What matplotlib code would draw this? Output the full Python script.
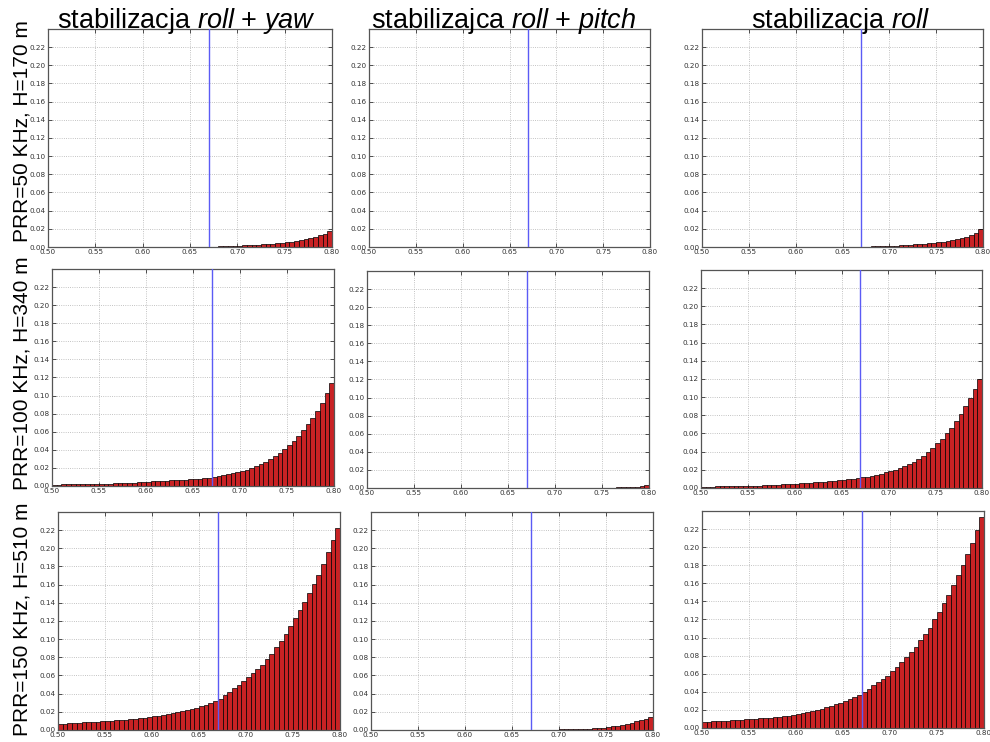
import numpy as np
import matplotlib
matplotlib.use('Agg')
import matplotlib.pyplot as plt

plt.rcParams['mathtext.fontset'] = 'custom'
plt.rcParams['mathtext.rm'] = 'Liberation Sans'
plt.rcParams['mathtext.it'] = 'Liberation Sans:italic'

# histogram bins: 60 bins of 0.005 between 0.50 and 0.80
bin_left = np.round(np.arange(60) * 0.005 + 0.5, 3)
threshold = 0.67

col_titles = [r'stabilizacja $\mathit{roll}$ + $\mathit{yaw}$',
              r'stabilizajca $\mathit{roll}$ + $\mathit{pitch}$',
              r'stabilizacja $\mathit{roll}$']
row_labels = ['PRR=50 KHz, H=170 m', 'PRR=100 KHz, H=340 m', 'PRR=150 KHz, H=510 m']

# row 1 (PRR=50 KHz)
r1_yaw = [0] * 34 + [
    0.0004, 0.0005, 0.0007, 0.0008, 0.0010, 0.0012,
    0.0015, 0.0017, 0.0020, 0.0023, 0.0026, 0.0029, 0.0033, 0.0036, 0.0040, 0.0046,
    0.0052, 0.0059, 0.0067, 0.0074, 0.0085, 0.0096, 0.0110, 0.0130, 0.0148, 0.0178]
r1_pitch = [0] * 60
r1_roll = [0] * 34 + [
    0.0004, 0.0004, 0.0006, 0.0007, 0.0008, 0.0011,
    0.0015, 0.0016, 0.0018, 0.0022, 0.0026, 0.0029, 0.0033, 0.0036, 0.0040, 0.0046,
    0.0052, 0.0060, 0.0067, 0.0074, 0.0085, 0.0096, 0.0115, 0.0137, 0.0155, 0.0193]

# row 2 (PRR=100 KHz)
r2_yaw = [
    0.0015, 0.0016, 0.0017, 0.0018, 0.0019, 0.0020, 0.0021, 0.0021, 0.0022, 0.0022,
    0.0022, 0.0024, 0.0026, 0.0028, 0.0030, 0.0031, 0.0033, 0.0036, 0.0040, 0.0044,
    0.0048, 0.0051, 0.0054, 0.0057, 0.0060, 0.0063, 0.0066, 0.0068, 0.0070, 0.0074,
    0.0077, 0.0080, 0.0085, 0.0093, 0.0100, 0.0107, 0.0120, 0.0130, 0.0140, 0.0155,
    0.0170, 0.0180, 0.0200, 0.0220, 0.0240, 0.0270, 0.0300, 0.0330, 0.0370, 0.0405,
    0.0450, 0.0500, 0.0555, 0.0620, 0.0680, 0.0755, 0.0830, 0.0920, 0.1030, 0.1140]
r2_pitch = [0] * 49 + [
    0.0003, 0.0003, 0.0004, 0.0005, 0.0006, 0.0008, 0.0010, 0.0012, 0.0016, 0.0022, 0.0030]
r2_roll = [
    0.0015, 0.0015, 0.0016, 0.0017, 0.0018, 0.0019, 0.0020, 0.0021, 0.0022, 0.0022,
    0.0023, 0.0025, 0.0027, 0.0029, 0.0031, 0.0034, 0.0037, 0.0040, 0.0043, 0.0046,
    0.0049, 0.0052, 0.0055, 0.0058, 0.0062, 0.0066, 0.0070, 0.0074, 0.0078, 0.0083,
    0.0088, 0.0094, 0.0100, 0.0107, 0.0118, 0.0125, 0.0136, 0.0147, 0.0158, 0.0173,
    0.0188, 0.0200, 0.0225, 0.0240, 0.0260, 0.0290, 0.0320, 0.0357, 0.0400, 0.0445,
    0.0490, 0.0537, 0.0600, 0.0665, 0.0735, 0.0810, 0.0900, 0.0990, 0.1085, 0.1195]

# row 3 (PRR=150 KHz)
r3_yaw = [
    0.0065, 0.0070, 0.0074, 0.0077, 0.0080, 0.0083, 0.0086, 0.0089, 0.0092, 0.0095,
    0.0098, 0.0102, 0.0106, 0.0110, 0.0114, 0.0119, 0.0124, 0.0130, 0.0136, 0.0143,
    0.0150, 0.0158, 0.0166, 0.0175, 0.0185, 0.0196, 0.0207, 0.0219, 0.0232, 0.0246,
    0.0262, 0.0279, 0.0297, 0.0318, 0.0345, 0.0380, 0.0420, 0.0460, 0.0500, 0.0540,
    0.0580, 0.0625, 0.0670, 0.0720, 0.0780, 0.0840, 0.0910, 0.0980, 0.1060, 0.1140,
    0.1230, 0.1320, 0.1410, 0.1510, 0.1610, 0.1710, 0.1830, 0.1960, 0.2090, 0.2225]
r3_pitch = [0] * 35 + [
    0.0003, 0.0003, 0.0004, 0.0004, 0.0005, 0.0006, 0.0006, 0.0007, 0.0008, 0.0011,
    0.0012, 0.0015, 0.0018, 0.0022, 0.0027, 0.0033, 0.0040, 0.0047, 0.0058, 0.0069,
    0.0080, 0.0098, 0.0110, 0.0120, 0.0138]
r3_roll = [
    0.0066, 0.0070, 0.0073, 0.0076, 0.0079, 0.0082, 0.0085, 0.0088, 0.0092, 0.0096,
    0.0100, 0.0104, 0.0108, 0.0112, 0.0116, 0.0120, 0.0125, 0.0130, 0.0135, 0.0140,
    0.0154, 0.0165, 0.0176, 0.0190, 0.0200, 0.0210, 0.0230, 0.0240, 0.0260, 0.0276,
    0.0300, 0.0320, 0.0340, 0.0370, 0.0400, 0.0430, 0.0470, 0.0510, 0.0540, 0.0580,
    0.0630, 0.0670, 0.0730, 0.0780, 0.0840, 0.0900, 0.0970, 0.1040, 0.1110, 0.1200,
    0.1280, 0.1380, 0.1470, 0.1580, 0.1690, 0.1800, 0.1920, 0.2050, 0.2190, 0.2335]

panels = [[r1_yaw, r1_pitch, r1_roll],
          [r2_yaw, r2_pitch, r2_roll],
          [r3_yaw, r3_pitch, r3_roll]]

W, H = 990, 742
fig = plt.figure(figsize=(W / 100, H / 100), dpi=100)

# panel boxes in pixels: (left, right, top, bottom) - the original is a collage
boxes = [[(48, 332, 29, 247), (369, 650, 29, 247), (702, 983, 29, 247)],
         [(52, 334, 269, 486), (367, 649, 271, 488), (701, 982, 270, 488)],
         [(58, 340, 512, 730), (371, 653, 512, 730), (702, 984, 511, 728)]]

for i in range(3):
    for j in range(3):
        l, r, t, b = boxes[i][j]
        ax = fig.add_axes([l / W, 1 - b / H, (r - l) / W, (b - t) / H])
        ax.bar(bin_left, panels[i][j], width=0.005, align='edge',
               color='#c92224', edgecolor='black', linewidth=0.5, zorder=2)
        ax.axvline(threshold, color='#5b5bf5', linewidth=1.0, zorder=3)
        ax.set_xlim(0.5, 0.8)
        ax.set_ylim(0, 0.2399)
        ax.set_xticks(np.round(np.arange(7) * 0.05 + 0.5, 2))
        ax.set_yticks(np.round(np.arange(12) * 0.02, 2))
        ax.xaxis.set_major_formatter(plt.FormatStrFormatter('%.2f'))
        ax.yaxis.set_major_formatter(plt.FormatStrFormatter('%.2f'))
        ax.tick_params(direction='in', top=True, right=True, length=3,
                       width=0.6, labelsize=5.2, pad=1.5, colors='#333333')
        ax.grid(True, linestyle=':', color='#b0b0b0', linewidth=0.6, zorder=0)
        ax.set_axisbelow(True)
        for s in ax.spines.values():
            s.set_color('#555555')
            s.set_linewidth(0.9)

# column titles
title_x = [186, 504, 840]
for j in range(3):
    fig.text(title_x[j] / W, 1 - 28 / H, col_titles[j], ha='center', va='baseline',
             fontsize=19.5, family='Liberation Sans')

# row labels
row_y = [131, 373, 619]
for i in range(3):
    fig.text(22 / W, 1 - row_y[i] / H, row_labels[i], rotation=90, ha='center',
             va='center', fontsize=15, family='Liberation Sans')

fig.savefig('out.png', dpi=100)
